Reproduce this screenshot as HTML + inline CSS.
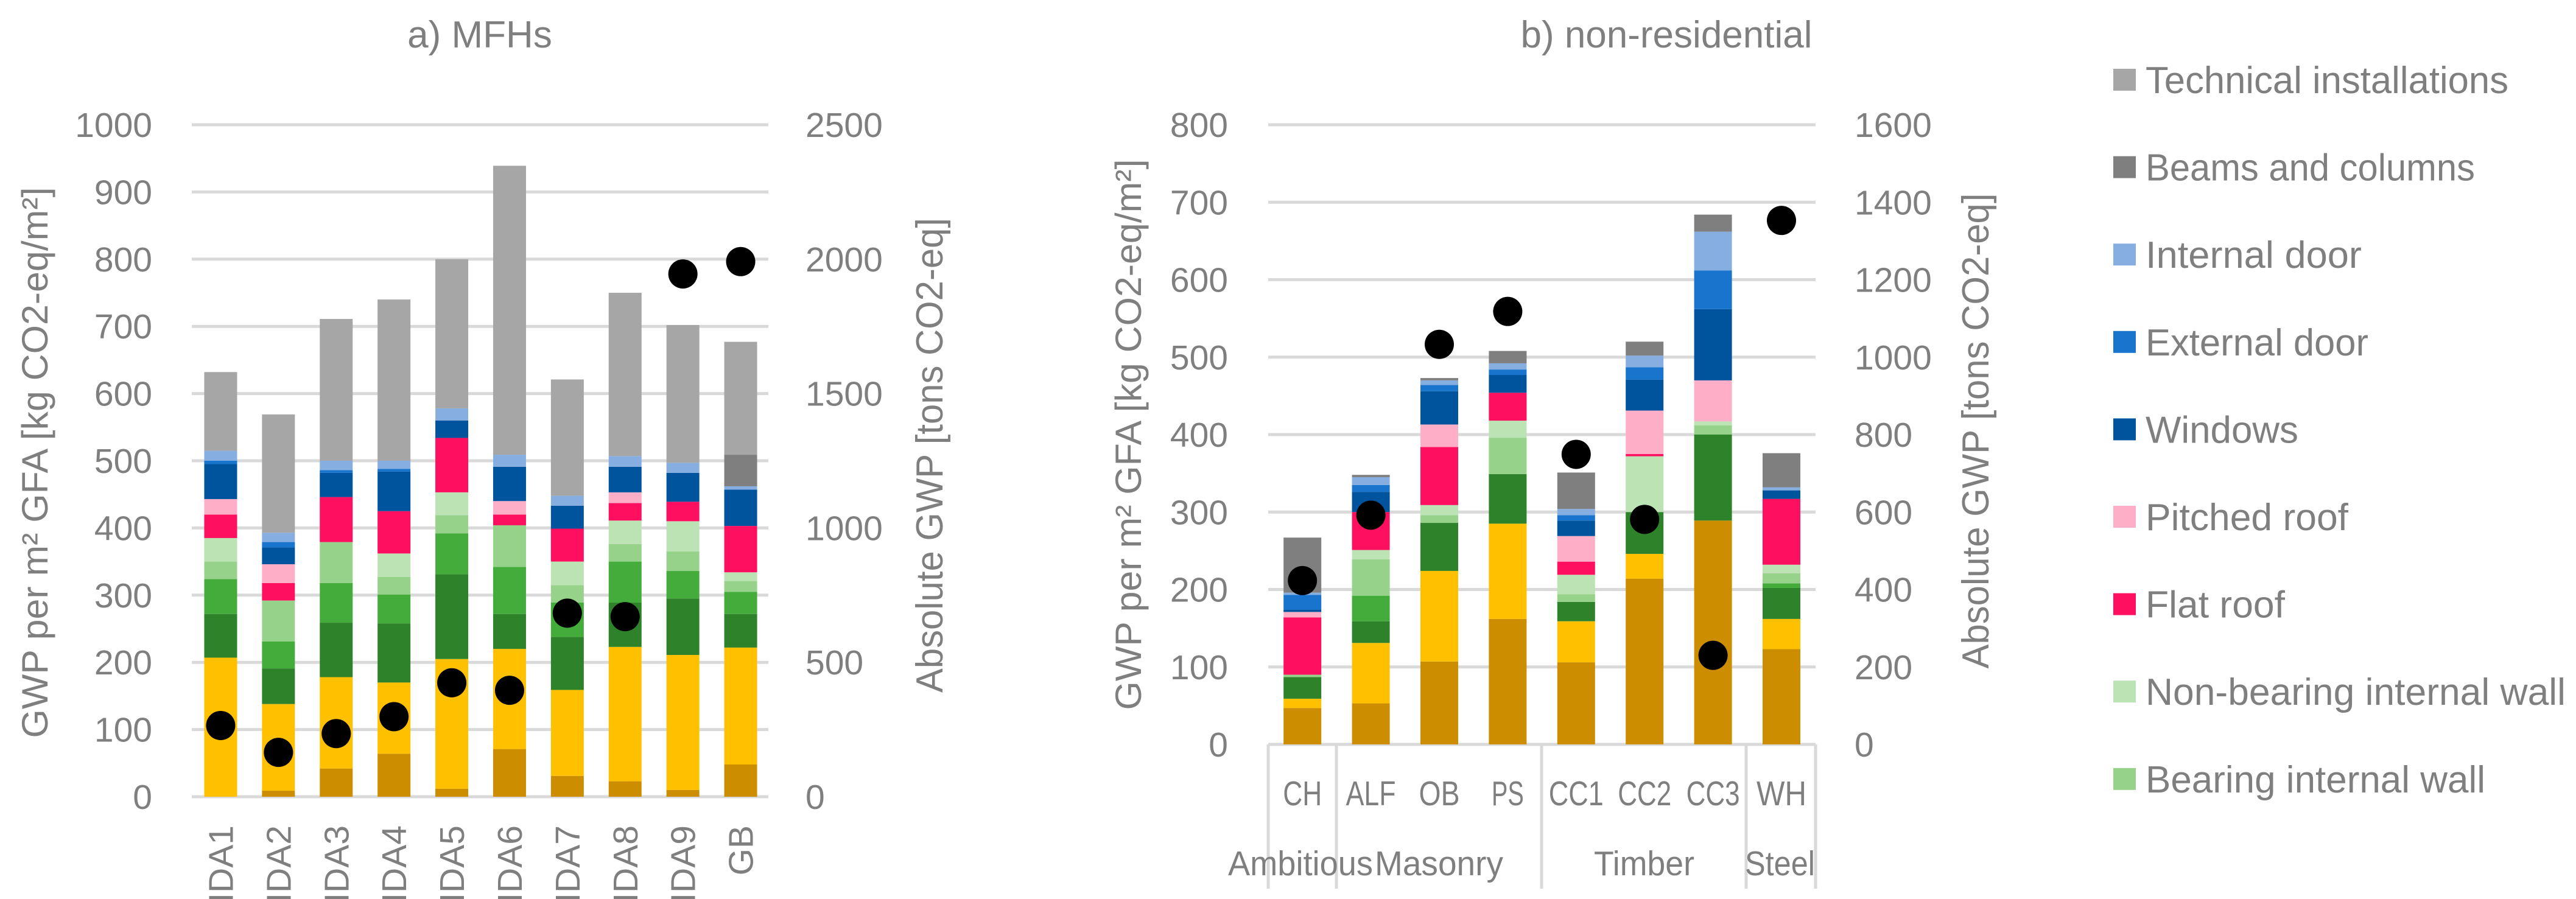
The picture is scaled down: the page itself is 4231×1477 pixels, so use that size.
<!DOCTYPE html>
<html><head><meta charset="utf-8"><style>
html,body{margin:0;padding:0;background:#fff}
svg{display:block;font-family:"Liberation Sans",sans-serif}
</style></head><body>
<svg id="s" width="4231" height="1477" viewBox="0 0 4231 1477" xmlns="http://www.w3.org/2000/svg"></svg>
<script>
const seriesNames=["Foundation","Ground slab","External wall","Intermediate floor","Bearing internal wall","Non-bearing internal wall","Flat roof","Pitched roof","Windows","External door","Internal door","Beams and columns","Technical installations"];
const seriesColors=["#CC8E00","#FFC000","#2E8229","#43AC3B","#97D28A","#BBE3B3","#FF0F5F","#FFAEC8","#00549E","#1874CD","#86AEE0","#7F7F7F","#A6A6A6"];
const catsA=["IDA1","IDA2","IDA3","IDA4","IDA5","IDA6","IDA7","IDA8","IDA9","GB"];
const valsA=[
[0,207,65,52,26,35,35,23,52,5,15,0,117],
[9,129,53,40,61,0,26,28,25,8,14,0,176],
[42,136,81,59,61,0,67,0,36,4,14,0,211],
[64,106,88,43,26,35,63,0,59,4,12,0,240],
[12,193,126,61,27,34,81,0,26,0,18,0,222],
[71,149,52,70,62,0,16,20,51,0,18,0,430],
[31,128,79,51,26,35,49,0,34,0,15,0,173],
[23,200,66,61,26,35,26,16,38,0,16,0,243],
[10,201,84,41,29,45,29,0,43,0,15,0,205],
[48,174,50,33,16,13,69,0,54,0,5,47,168]];
const absA=[265,165,235,298,424,396,683,670,1945,1991];
const ticksA=[0,100,200,300,400,500,600,700,800,900,1000];
const ticksA2=[0,500,1000,1500,2000,2500];
const catsB=["CH","ALF","OB","PS","CC1","CC2","CC3","WH"];
const groupsB=["Ambitious","Masonry","Timber","Steel"];
const valsB=[
[47,12,28,0,3,0,74,7,3,19,3,71,0],
[53,78,28,33,47,12,49,0,26,9,10,3,0],
[107,117,62,0,10,13,75,29,43,8,6,3,0],
[162,123,64,0,47,22,36,0,23,7,8,16,0],
[106,53,25,0,10,25,17,33,20,7,8,47,0],
[214,32,54,0,0,72,3,56,40,16,15,18,0],
[289,0,111,0,12,5,0,53,92,50,50,22,0],
[123,39,40,6,13,11,85,0,11,0,4,44,0]];
const absB=[423,592,1033,1118,749,581,230,1353];
const ticksB=[0,100,200,300,400,500,600,700,800];
const ticksB2=[0,200,400,600,800,1000,1200,1400,1600];

const S=document.getElementById('s');const NS="http://www.w3.org/2000/svg";
function mk(t,a,txt){const e=document.createElementNS(NS,t);for(const k in a)e.setAttribute(k,a[k]);if(txt!==undefined)e.textContent=txt;S.appendChild(e);return e;}
const G="#7F7F7F";

function chart(o){
  const yS=v=>o.y0-(v/o.max)*(o.y0-o.y1);
  const y2=v=>o.y0-(v/o.max2)*(o.y0-o.y1);
  const xC=i=>o.x0+o.step*(i+0.5);
  o.ticks.forEach(t=>{
    const l=mk('line',{x1:o.x0,x2:o.x2,y1:yS(t),y2:yS(t),stroke:"#D9D9D9","stroke-width":5});
    
    
    const tx=mk('text',{x:o.lx,y:yS(t)+20,"text-anchor":"end","font-size":57,fill:G},String(t));
    
    
  });
  o.ticks2.forEach(t=>{
    const tx=mk('text',{x:o.rx,y:y2(t)+20,"font-size":57,fill:G},String(t));
    
    
  });
  o.vals.forEach((row,i)=>{
    let acc=0;
    row.forEach((v,k)=>{
      if(v>0){
        const r=mk('rect',{x:xC(i)-o.bw/2,y:yS(acc+v),width:o.bw,height:yS(acc)-yS(acc+v),fill:seriesColors[k]});
        
        
      }
      acc+=v;
    });
  });
  o.abs.forEach((v,i)=>{
    const c=mk('circle',{cx:xC(i),cy:y2(v),r:24,fill:"#000"});
    
    
  });
  return xC;
}
// Chart A
const xA=chart({x0:315,x2:1262,step:94.9,y0:1309,y1:205,max:1000,max2:2500,bw:54,lx:250,rx:1323,ticks:ticksA,ticks2:ticksA2,vals:valsA,abs:absA});
catsA.forEach((c,i)=>{
  const t=mk('text',{x:0,y:0,"text-anchor":"end","font-size":57,fill:G,transform:`translate(${xA(i)+20},1356) rotate(-90)`},c);
  
  
});
// Chart B
const xB=chart({x0:2083,x2:2982,step:112.4,y0:1223,y1:205,max:800,max2:1600,bw:62,lx:2017,rx:3046,ticks:ticksB,ticks2:ticksB2,vals:valsB,abs:absB});
const catLen=[64,82,67,53,90,88,88,82];
catsB.forEach((c,i)=>{
  const t=mk('text',{x:xB(i)-catLen[i]/2,y:1323,"font-size":57,fill:G,textLength:catLen[i],lengthAdjust:"spacingAndGlyphs"},c);
  
  
});
[2083,2195,2532,2868,2982].forEach(x=>{
  const l=mk('line',{x1:x,x2:x,y1:1223,y2:1460,stroke:"#D9D9D9","stroke-width":5});
  
  
});
const gx=[2017,2258,2618,2866];const gl=[238,211,165,115];
groupsB.forEach((g,i)=>{
  const t=mk('text',{x:gx[i],y:1438,"font-size":57,fill:G,textLength:gl[i],lengthAdjust:"spacingAndGlyphs"},g);
  
  
});
</script>
<script>
(function(){
const S=document.getElementById('s');const NS="http://www.w3.org/2000/svg";
function mk(a,txt,name){const e=document.createElementNS(NS,'text');for(const k in a)e.setAttribute(k,a[k]);e.textContent=txt;


S.appendChild(e);return e;}
const G="#7F7F7F";
mk({x:788,y:78,"text-anchor":"middle","font-size":62,fill:G},"a) MFHs","title-a");
mk({x:2737,y:78,"text-anchor":"middle","font-size":62,fill:G},"b) non-residential","title-b");
mk({x:0,y:0,"text-anchor":"middle","font-size":60,fill:G,textLength:905,lengthAdjust:"spacingAndGlyphs",transform:"translate(78,760) rotate(-90)"},"GWP per m² GFA [kg CO2-eq/m²]","y-axis-title-a");
mk({x:0,y:0,"text-anchor":"middle","font-size":60,fill:G,textLength:905,lengthAdjust:"spacingAndGlyphs",transform:"translate(1874,714) rotate(-90)"},"GWP per m² GFA [kg CO2-eq/m²]","y-axis-title-b");
mk({x:0,y:0,"text-anchor":"middle","font-size":62,fill:G,textLength:780,lengthAdjust:"spacingAndGlyphs",transform:"translate(1548,748) rotate(-90)"},"Absolute GWP [tons CO2-eq]","y2-axis-title-a");
mk({x:0,y:0,"text-anchor":"middle","font-size":62,fill:G,textLength:781,lengthAdjust:"spacingAndGlyphs",transform:"translate(3266,708) rotate(-90)"},"Absolute GWP [tons CO2-eq]","y2-axis-title-b");
const leg=[["Technical installations","#A6A6A6",596],["Beams and columns","#7F7F7F",541],["Internal door","#86AEE0",355],["External door","#1874CD",366],["Windows","#00549E",251],["Pitched roof","#FFAEC8",333],["Flat roof","#FF0F5F",229],["Non-bearing internal wall","#BBE3B3",690],["Bearing internal wall","#97D28A",558]];
leg.forEach((l,i)=>{
  const y=131+i*143.6;
  const r=document.createElementNS(NS,'rect');
  r.setAttribute('x',3471);r.setAttribute('y',y-18);r.setAttribute('width',37);r.setAttribute('height',36);r.setAttribute('fill',l[1]);
  
  
  S.appendChild(r);
  mk({x:3524,y:y+22,"font-size":62,fill:G,textLength:l[2],lengthAdjust:"spacingAndGlyphs"},l[0],"legend-entry");
});
})();
</script>
</body></html>
